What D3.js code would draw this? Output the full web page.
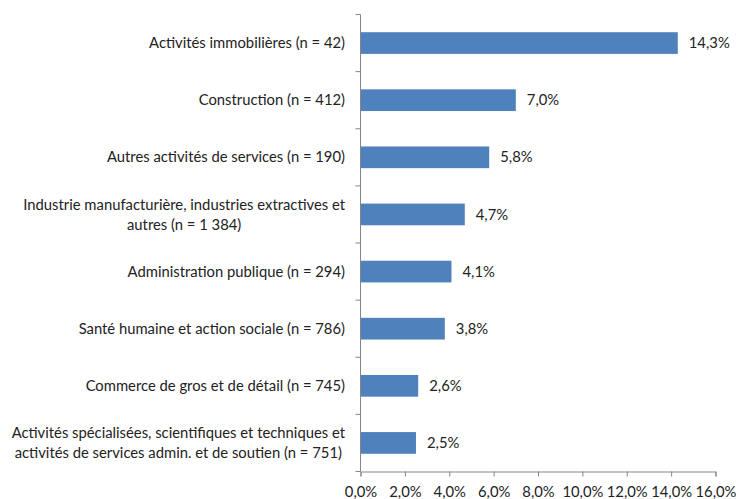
<!DOCTYPE html>
<html>
<head>
<meta charset="utf-8">
<script src="https://cdn.jsdelivr.net/npm/d3@7"></script>
<style>
	body { margin: 0; background: #fff; }
	svg { display: block; font-family: Lato, "Open Sans", sans-serif; }
</style>
</head>
<body>
<script>
// données
const categories = [
	["Activités immobilières (n = 42)"],
	["Construction (n = 412)"],
	["Autres activités de services (n = 190)"],
	["Industrie manufacturière, industries extractives et", "autres (n = 1 384)"],
	["Administration publique (n = 294)"],
	["Santé humaine et action sociale (n = 786)"],
	["Commerce de gros et de détail (n = 745)"],
	["Activités spécialisées, scientifiques et techniques et", "activités de services admin. et de soutien (n = 751)"]
];
const values = [14.3, 7.0, 5.8, 4.7, 4.1, 3.8, 2.6, 2.5];
const ticks = [0, 2, 4, 6, 8, 10, 12, 14, 16];

const WIDTH = 736;
const HEIGHT = 499;
const plotLeft = 360.5;
const plotRight = 715.5;
const plotTop = 14.5;
const plotBottom = 471.5;
const FONT = "14.8px";

const fmt = (v) => v.toFixed(1).replace(".", ",") + "%";

const svg = d3
	.select("body")
	.append("svg")
	.attr("width", WIDTH)
	.attr("height", HEIGHT);

const x = d3.scaleLinear().domain([0, 16]).range([plotLeft, plotRight]);
const y = d3
	.scaleBand()
	.domain(d3.range(categories.length))
	.range([plotTop, plotBottom])
	.paddingInner(0.62)
	.paddingOuter(0.31);

// barres
svg
	.selectAll("rect.bar")
	.data(values)
	.enter()
	.append("rect")
	.attr("class", "bar")
	.attr("x", x(0))
	.attr("y", (d, i) => y(i))
	.attr("width", (d) => x(d) - x(0))
	.attr("height", y.bandwidth())
	.attr("fill", "#4F81BD");

// valeurs
svg
	.selectAll("text.val")
	.data(values)
	.enter()
	.append("text")
	.attr("class", "val")
	.attr("x", (d) => x(d) + 11)
	.attr("y", (d, i) => y(i) + y.bandwidth() / 2)
	.attr("dy", "0.35em")
	.attr("font-size", FONT)
	.attr("fill", "#222")
	.text(fmt);

// axe x
const xAxis = svg
	.append("g")
	.attr("transform", `translate(0,${plotBottom})`)
	.call(
		d3.axisBottom(x)
			.tickValues(ticks)
			.tickFormat(fmt)
			.tickSizeOuter(0)
			.tickSize(5)
	);
xAxis.select(".domain").attr("stroke", "#868686");
xAxis.selectAll(".tick line").attr("stroke", "#868686");
xAxis
	.selectAll(".tick text")
	.attr("font-size", FONT)
	.attr("font-family", "Lato, sans-serif")
	.attr("fill", "#222")
	.attr("y", 15);

// axe y
svg
	.append("line")
	.attr("x1", plotLeft)
	.attr("x2", plotLeft)
	.attr("y1", plotTop)
	.attr("y2", plotBottom)
	.attr("stroke", "#868686");
svg
	.selectAll("line.ytick")
	.data(d3.range(categories.length + 1))
	.enter()
	.append("line")
	.attr("class", "ytick")
	.attr("x1", plotLeft - 5)
	.attr("x2", plotLeft)
	.attr("y1", (i) => plotTop + i * (plotBottom - plotTop) / categories.length)
	.attr("y2", (i) => plotTop + i * (plotBottom - plotTop) / categories.length)
	.attr("stroke", "#868686");

// étiquettes
const lineH = 20;
categories.forEach((lines, i) => {
	const g = svg.append("g");
	const cy = y(i) + y.bandwidth() / 2;
	const texts = lines.map((l, j) =>
		g
			.append("text")
			.attr("y", cy + (j - (lines.length - 1) / 2) * lineH)
			.attr("dy", "0.35em")
			.attr("font-size", FONT)
			.attr("fill", "#222")
			.attr("text-anchor", "middle")
			.text(l)
	);
	const w = d3.max(texts, (t) => t.node().getComputedTextLength());
	texts.forEach((t) => t.attr("x", 345 - w / 2));
});
</script>
</body>
</html>
